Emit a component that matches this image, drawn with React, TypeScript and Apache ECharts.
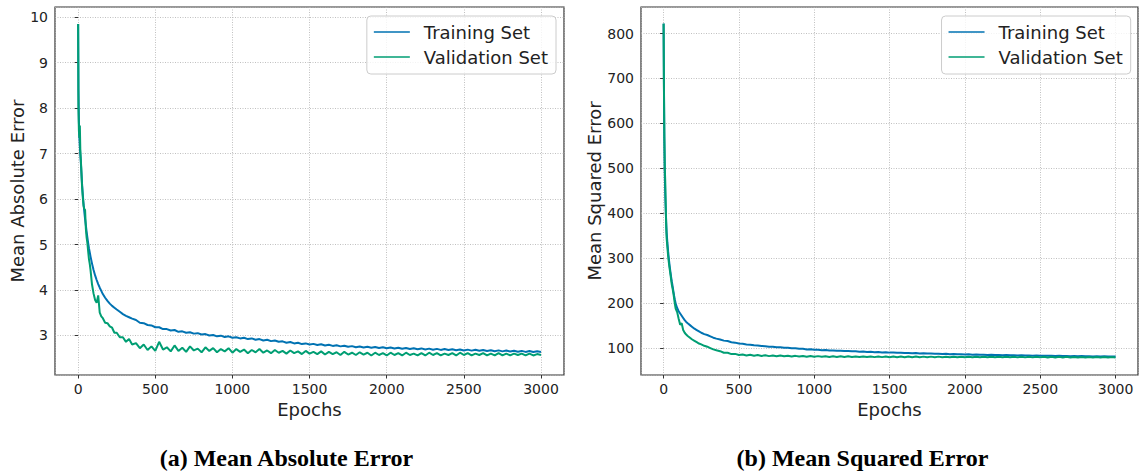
import React, { useEffect, useRef } from "react";
import * as echarts from "echarts";

const epochs = [
  0, 2, 5, 8, 11, 14, 17, 20, 25, 30, 35, 40, 45, 50, 55, 60, 65, 70, 75, 80, 90, 100, 110, 120, 130, 140, 150, 160, 175, 190, 205, 220, 235, 250, 270, 290, 310, 330, 350,
  375, 400, 425, 450, 475, 500, 525, 550, 575, 600, 625, 650, 675, 700, 725, 750, 775, 800, 825, 850, 875, 900, 925, 950, 975, 1000,
  1025, 1050, 1075, 1100, 1125, 1150, 1175, 1200, 1225, 1250, 1275, 1300, 1325, 1350, 1375, 1400, 1425, 1450, 1475, 1500,
  1525, 1550, 1575, 1600, 1625, 1650, 1675, 1700, 1725, 1750, 1775, 1800, 1825, 1850, 1875, 1900, 1925, 1950, 1975, 2000,
  2025, 2050, 2075, 2100, 2125, 2150, 2175, 2200, 2225, 2250, 2275, 2300, 2325, 2350, 2375, 2400, 2425, 2450, 2475, 2500,
  2525, 2550, 2575, 2600, 2625, 2650, 2675, 2700, 2725, 2750, 2775, 2800, 2825, 2850, 2875, 2900, 2925, 2950, 2975, 3000,
];

const maeTraining = [
  9.85, 8.4, 7.7, 7.35, 7.15, 6.98, 6.85, 6.65, 6.35, 6.1, 5.9, 5.72, 5.56, 5.42, 5.28, 5.15, 5.03, 4.92, 4.83, 4.74, 4.58, 4.44, 4.32, 4.22, 4.13, 4.05, 3.98, 3.91, 3.83, 3.76, 3.7, 3.65, 3.61, 3.57, 3.52, 3.47, 3.43, 3.4, 3.37,
  3.34, 3.28, 3.27, 3.23, 3.22, 3.18, 3.18, 3.14, 3.14, 3.11, 3.12, 3.08, 3.09, 3.06, 3.07, 3.04, 3.05, 3.02, 3.03, 3.0, 3.01, 2.98, 2.995, 2.965, 2.98, 2.95,
  2.96, 2.935, 2.95, 2.92, 2.935, 2.905, 2.92, 2.89, 2.905, 2.875, 2.89, 2.86, 2.87, 2.84, 2.855, 2.825, 2.84, 2.81, 2.825, 2.8,
  2.815, 2.79, 2.805, 2.78, 2.795, 2.77, 2.785, 2.76, 2.775, 2.75, 2.765, 2.74, 2.758, 2.735, 2.75, 2.73, 2.745, 2.722, 2.74, 2.718,
  2.735, 2.712, 2.73, 2.707, 2.725, 2.702, 2.72, 2.697, 2.715, 2.692, 2.71, 2.687, 2.705, 2.682, 2.7, 2.678, 2.696, 2.674, 2.692, 2.67,
  2.688, 2.666, 2.684, 2.662, 2.68, 2.658, 2.676, 2.654, 2.672, 2.65, 2.668, 2.646, 2.664, 2.642, 2.66, 2.638, 2.656, 2.634, 2.652, 2.635,
];

const maeValidation = [
  9.85, 8.0, 7.5, 7.35, 7.62, 7.1, 6.88, 6.7, 6.3, 6.05, 5.85, 5.78, 5.76, 5.35, 5.15, 5.03, 4.85, 4.68, 4.58, 4.45, 4.12, 3.92, 3.78, 3.72, 3.88, 3.5, 3.42, 3.38, 3.28, 3.27, 3.2, 3.17, 3.06, 3.06, 2.96, 2.96, 2.86, 2.92, 2.8,
  2.83, 2.72, 2.8, 2.68, 2.76, 2.66, 2.86, 2.69, 2.74, 2.65, 2.78, 2.66, 2.73, 2.64, 2.76, 2.67, 2.71, 2.63, 2.74, 2.66, 2.72, 2.63, 2.7, 2.65, 2.72, 2.62,
  2.7, 2.64, 2.69, 2.61, 2.68, 2.63, 2.7, 2.62, 2.67, 2.61, 2.68, 2.62, 2.66, 2.6, 2.67, 2.61, 2.65, 2.59, 2.66, 2.6,
  2.64, 2.59, 2.65, 2.58, 2.64, 2.59, 2.63, 2.57, 2.64, 2.58, 2.62, 2.57, 2.63, 2.58, 2.62, 2.56, 2.62, 2.57, 2.61, 2.56,
  2.62, 2.57, 2.61, 2.56, 2.62, 2.57, 2.6, 2.56, 2.61, 2.56, 2.62, 2.57, 2.61, 2.56, 2.6, 2.57, 2.61, 2.56, 2.62, 2.57,
  2.61, 2.56, 2.6, 2.57, 2.61, 2.56, 2.6, 2.56, 2.61, 2.56, 2.6, 2.56, 2.6, 2.57, 2.6, 2.56, 2.6, 2.56, 2.59, 2.57,
];

const mseTraining = [
  822, 700, 565, 485, 440, 410, 382, 358, 335, 315, 298, 283, 270, 258, 247, 237, 226, 216, 207, 199, 189, 182, 177, 172, 167, 162, 158, 155, 151, 147, 143, 140, 137, 134, 131, 129, 126, 123, 121,
  119, 116.5, 115.5, 113, 112, 110, 109.5, 108, 107.5, 106, 105.8, 104.5, 104.2, 103, 103, 101.8, 101.8, 100.6, 100.5, 99.4, 99.3, 98.2, 98.2, 97, 97.1, 96,
  96.2, 95.2, 95.4, 94.5, 94.7, 93.8, 94, 93.2, 93.4, 92.6, 92.8, 92, 92.2, 91.4, 91.6, 90.8, 91, 90.3, 90.5, 89.8,
  90, 89.3, 89.5, 88.8, 89.1, 88.4, 88.7, 88, 88.3, 87.6, 87.9, 87.2, 87.5, 86.8, 87.1, 86.4, 86.7, 86, 86.3, 85.7,
  86, 85.3, 85.6, 85, 85.3, 84.7, 85, 84.4, 84.7, 84.1, 84.4, 83.8, 84.1, 83.5, 83.8, 83.2, 83.5, 83, 83.3, 82.8,
  83.1, 82.6, 82.9, 82.4, 82.7, 82.2, 82.5, 82, 82.3, 81.8, 82.1, 81.6, 81.9, 81.4, 81.7, 81.2, 81.5, 81, 81.3, 81,
];

const mseValidation = [
  822, 690, 570, 500, 470, 420, 375, 345, 325, 305, 290, 277, 265, 252, 240, 232, 222, 210, 198, 188, 180, 165, 152, 155, 140, 134, 130, 127, 123, 119, 116, 113, 110, 108, 105, 103, 100, 97, 95,
  93, 89.5, 89.5, 86.5, 87, 84.5, 85.5, 83.5, 85, 83, 84.5, 82.5, 84, 82, 83.5, 81.8, 83.2, 81.5, 83, 81.2, 82.6, 81, 82.5, 80.8, 82.2, 80.6,
  82, 80.5, 81.8, 80.3, 81.7, 80.2, 81.6, 80.1, 81.5, 80, 81.4, 80, 81.3, 79.9, 81.2, 79.8, 81.2, 79.8, 81.1, 79.7,
  81.1, 79.7, 81, 79.6, 81, 79.6, 81, 79.6, 80.9, 79.5, 80.9, 79.5, 80.9, 79.5, 80.8, 79.5, 80.8, 79.4, 80.8, 79.4,
  80.8, 79.4, 80.7, 79.4, 80.7, 79.3, 80.7, 79.3, 80.6, 79.3, 80.6, 79.3, 80.6, 79.2, 80.6, 79.2, 80.5, 79.2, 80.5, 79.2,
  80.5, 79.1, 80.4, 79.1, 80.4, 79.1, 80.4, 79, 80.3, 79, 80.3, 79, 80.3, 79, 80.2, 78.9, 80.2, 78.9, 80.2, 79,
];

const seriesNames = ["Training Set", "Validation Set"];
const captions = ["(a) Mean Absolute Error", "(b) Mean Squared Error"];
const yAxisTitles = ["Mean Absolute Error", "Mean Squared Error"];
const xAxisTitle = "Epochs";

const BLUE = "#0072B2";
const GREEN = "#009E73";
const FONT = "'DejaVu Sans', sans-serif";
const LEGEND_LINE = "path://M0,0L0,0M0,18L0,18M0,8.25L36,8.25L36,9.75L0,9.75Z";

export default function App() {
  const ref = useRef<HTMLDivElement>(null);

  useEffect(() => {
    const chart = echarts.init(ref.current as HTMLDivElement, null, { renderer: "svg" });
    const pair = (vals: number[]) => epochs.map((e, i) => [e, vals[i]]);

    const splitLine = { show: true, lineStyle: { color: "#b0b0b0", type: [1, 1.5], width: 0.8 } };
    const tick = { show: true, length: 3.5, lineStyle: { color: "#333", width: 1 } };

    const xAxis = (gridIndex: number) => ({
      gridIndex,
      type: "value",
      min: -150,
      max: 3149,
      splitNumber: 6,
      name: xAxisTitle,
      nameLocation: "middle",
      nameGap: 21,
      nameTextStyle: { fontSize: 18, color: "#222", fontFamily: FONT },
      axisLine: { show: false },
      axisTick: tick,
      axisLabel: {
        fontSize: 14,
        color: "#222",
        fontFamily: FONT,
        margin: 7,
        showMinLabel: false,
        showMaxLabel: false,
        formatter: (v: number) => (Math.abs(v % 500) < 1e-6 ? String(v) : ""),
      },
      splitLine,
    });

    const yAxis = (gridIndex: number, min: number, max: number, step: number, gap: number) => ({
      gridIndex,
      type: "value",
      min,
      max,
      splitNumber: 8,
      name: yAxisTitles[gridIndex],
      nameLocation: "middle",
      nameGap: gap,
      nameTextStyle: { fontSize: 18, color: "#222", fontFamily: FONT },
      axisLine: { show: false },
      axisTick: tick,
      axisLabel: {
        fontSize: 14,
        color: "#222",
        fontFamily: FONT,
        margin: 7,
        showMinLabel: false,
        showMaxLabel: false,
        formatter: (v: number) => (Math.abs(v / step - Math.round(v / step)) < 1e-6 ? String(Math.round(v)) : ""),
      },
      splitLine,
    });

    const legend = (right: number) => ({
      data: seriesNames.map((name) => ({ name, icon: LEGEND_LINE })),
      orient: "vertical",
      right,
      top: 16,
      itemWidth: 36,
      itemHeight: 18,
      itemGap: 7,
      padding: [7, 8, 8, 7],
      borderColor: "#cccccc",
      borderWidth: 1,
      borderRadius: 4,
      backgroundColor: "rgba(255,255,255,0.8)",
      textStyle: { fontSize: 18, color: "#222", fontFamily: FONT, padding: [0, 0, 0, 9] },
    });

    const line = (name: string, color: string, data: number[], idx: number) => ({
      name,
      type: "line",
      xAxisIndex: idx,
      yAxisIndex: idx,
      data: pair(data),
      symbol: "none",
      color,
      lineStyle: { color, width: 2 },
      itemStyle: { color },
    });

    chart.setOption({
      animation: false,
      backgroundColor: "#ffffff",
      textStyle: { fontFamily: FONT },
      grid: [
        { left: 55, top: 7, width: 509, height: 368, show: true, borderColor: "#333", borderWidth: 1.2, backgroundColor: "transparent" },
        { left: 641, top: 7, width: 497, height: 368, show: true, borderColor: "#333", borderWidth: 1.2, backgroundColor: "transparent" },
      ],
      xAxis: [xAxis(0), xAxis(1)],
      yAxis: [yAxis(0, 2.13, 10.225, 1, 27), yAxis(1, 40, 859, 100, 37)],
      legend: [legend(583), legend(8.3)],
      series: [
        line(seriesNames[0], BLUE, maeTraining, 0),
        line(seriesNames[1], GREEN, maeValidation, 0),
        line(seriesNames[0], BLUE, mseTraining, 1),
        line(seriesNames[1], GREEN, mseValidation, 1),
      ],
      graphic: [
        {
          type: "text",
          x: 286.5,
          y: 457.5,
          style: {
            text: captions[0],
            font: "bold 24px 'Liberation Serif', 'Times New Roman', serif",
            fill: "#000",
            align: "center",
            verticalAlign: "middle",
          },
        },
        {
          type: "text",
          x: 862.5,
          y: 457.5,
          style: {
            text: captions[1],
            font: "bold 24px 'Liberation Serif', 'Times New Roman', serif",
            fill: "#000",
            align: "center",
            verticalAlign: "middle",
          },
        },
      ],
    });

    return () => chart.dispose();
  }, []);

  return (
    <div
      ref={ref}
      style={{ position: "fixed", left: 0, top: 0, width: 1139, height: 472, background: "#fff" }}
    />
  );
}
